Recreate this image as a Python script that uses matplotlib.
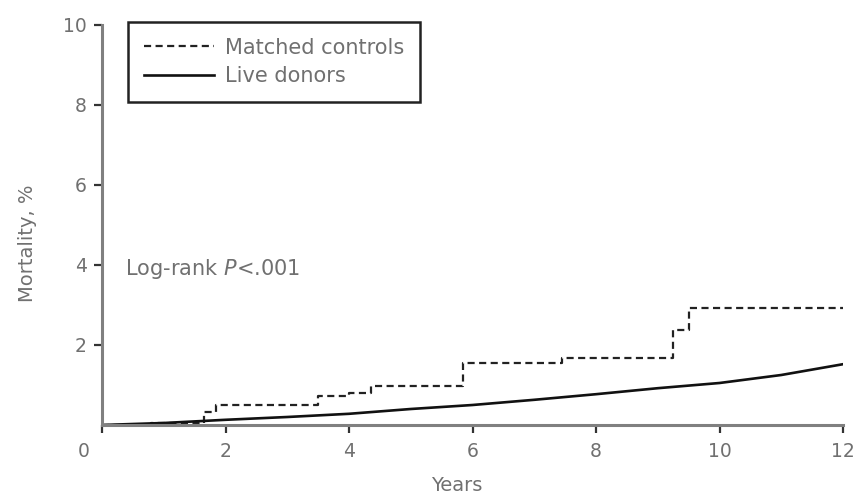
import matplotlib
matplotlib.use("Agg")
import matplotlib.pyplot as plt
from matplotlib.transforms import ScaledTranslation

# Data
matched_years = [0, 0.8, 1.65, 1.85, 3.5, 4.0, 4.35, 5.85, 7.45, 9.25, 9.5, 12]
matched_mort = [0, 0.05, 0.33, 0.5, 0.72, 0.8, 0.97, 1.55, 1.67, 2.37, 2.92, 2.92]
donor_years = [0, 1, 2, 3, 4, 5, 6, 7, 8, 9, 10, 11, 12]
donor_mort = [0, 0.05, 0.13, 0.2, 0.28, 0.4, 0.5, 0.63, 0.77, 0.92, 1.05, 1.25, 1.52]
xticks = [0, 2, 4, 6, 8, 10, 12]
yticks = [2, 4, 6, 8, 10]

plt.rcParams['font.family'] = ['DejaVu Sans']
fig = plt.figure(figsize=(8.6, 4.96), dpi=100)
ax = fig.add_axes([102/860, 71/496, 741/860, 400/496])

txt = '#707070'
fs = 13.5
fs2 = 15
ax.plot(matched_years, matched_mort, drawstyle='steps-post', color='#222222',
        lw=1.6, linestyle=(0, (3.2, 2.0)), label='Matched controls')
ax.plot(donor_years, donor_mort, color='#111111', lw=1.9, label='Live donors')

ax.set_xlim(0, 12)
ax.set_ylim(0, 10)
ax.set_xticks(xticks)
ax.set_yticks(yticks)
for s in ['top', 'right']:
    ax.spines[s].set_visible(False)
for s in ['left', 'bottom']:
    ax.spines[s].set_color('#808080')
    ax.spines[s].set_linewidth(2.2)
ax.tick_params(direction='out', length=6, width=1.6, color='#333333',
               labelcolor=txt, labelsize=fs)
ax.tick_params(axis='x', pad=6)
ax.tick_params(axis='y', pad=5)
# shift the "0" label left like the reference
lbl0 = ax.get_xticklabels()[0]
lbl0.set_transform(lbl0.get_transform() + ScaledTranslation(-18/100, 0, fig.dpi_scale_trans))

ax.set_xlabel('Years', color=txt, fontsize=14)
ax.set_ylabel('Mortality, %', color=txt, fontsize=14)
ax.xaxis.set_label_coords(0.479, -0.128)
ax.yaxis.set_label_coords(-0.088, 0.455)

leg = ax.legend(loc='upper left', bbox_to_anchor=(0.035, 1.0075), fancybox=False,
                edgecolor='#222222', framealpha=1, handlelength=3.4,
                fontsize=fs2, borderpad=0.75, labelspacing=0.42, handletextpad=0.5,
                borderaxespad=0)
leg.get_frame().set_linewidth(1.8)
for t in leg.get_texts():
    t.set_color(txt)

ax.text(0.37, 3.9, 'Log-rank $\\it{P}$<.001', color=txt, fontsize=fs2, va='center')

fig.savefig('out.png', dpi=100)
